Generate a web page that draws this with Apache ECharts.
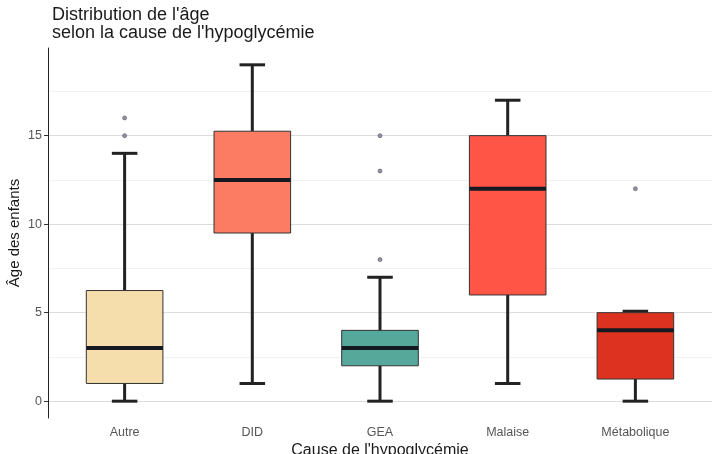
<!DOCTYPE html>
<html>
<head>
<meta charset="utf-8">
<script src="https://cdn.jsdelivr.net/npm/echarts@6/dist/echarts.min.js"></script>
<style>
  html, body { margin: 0; padding: 0; background: #fff; }
  #chart { width: 720px; height: 454px; }
</style>
</head>
<body>
<div id="chart"></div>
<script>
  var categories = ['Autre', 'DID', 'GEA', 'Malaise', 'Métabolique'];
  var whiskerLow = [0, 1, 0, 1, 0];
  var q1 = [1, 9.5, 2, 6, 1.25];
  var median = [3, 12.5, 3, 12, 4];
  var q3 = [6.25, 15.25, 4, 15, 5];
  var whiskerHigh = [14, 19, 7, 17, 5.08];
  // outliers: [category index, value]
  var outliers = [[0, 15], [0, 16], [2, 8], [2, 13], [2, 15], [4, 12]];
  var boxColors = ['#F5DEAB', '#FB7C62', '#55A89A', '#FE5546', '#DE3220'];
  var yTicks = [0, 5, 10, 15];
  var yMinorTicks = [2.5, 7.5, 12.5, 17.5];

  var chart = echarts.init(document.getElementById('chart'));

  var boxData = categories.map(function (c, i) {
    return [i + 1, whiskerLow[i], q1[i], median[i], q3[i], whiskerHigh[i]];
  });
  var outlierData = outliers.map(function (o) { return [o[0] + 1, o[1]]; });

  function renderBox(params, api) {
    var pos = api.value(0);
    var i = pos - 1;
    var x = api.coord([pos, 0])[0];
    var unit = api.size([1, 0])[0];
    var boxW = unit * 0.6;
    var capW = unit * 0.2;
    var yLo = api.coord([pos, api.value(1)])[1];
    var yQ1 = api.coord([pos, api.value(2)])[1];
    var yMed = api.coord([pos, api.value(3)])[1];
    var yQ3 = api.coord([pos, api.value(4)])[1];
    var yHi = api.coord([pos, api.value(5)])[1];
    var lineStyle = { stroke: '#222222', lineWidth: 3 };
    return {
      type: 'group',
      children: [
        { type: 'line', shape: { x1: x, y1: yLo, x2: x, y2: yQ1 }, style: lineStyle },
        { type: 'line', shape: { x1: x, y1: yQ3, x2: x, y2: yHi }, style: lineStyle },
        { type: 'line', shape: { x1: x - capW / 2, y1: yLo, x2: x + capW / 2, y2: yLo }, style: lineStyle },
        { type: 'line', shape: { x1: x - capW / 2, y1: yHi, x2: x + capW / 2, y2: yHi }, style: lineStyle },
        {
          type: 'rect',
          shape: { x: x - boxW / 2, y: yQ3, width: boxW, height: yQ1 - yQ3 },
          style: { fill: boxColors[i], stroke: '#333333', lineWidth: 1 }
        },
        {
          type: 'line',
          shape: { x1: x - boxW / 2, y1: yMed, x2: x + boxW / 2, y2: yMed },
          style: { stroke: '#151a22', lineWidth: 4 }
        }
      ]
    };
  }

  var option = {
    backgroundColor: '#ffffff',
    textStyle: { fontFamily: 'Liberation Sans, Arial, sans-serif' },
    title: {
      text: "Distribution de l'âge\nselon la cause de l'hypoglycémie",
      left: 47,
      top: 1,
      textStyle: {
        fontSize: 18,
        fontWeight: 'normal',
        color: '#1a1a1a',
        lineHeight: 18,
        fontFamily: 'Liberation Sans, Arial, sans-serif'
      }
    },
    grid: { left: 48, right: 8, top: 48, bottom: 36, outerBoundsMode: 'none', containLabel: false },
    xAxis: {
      type: 'value',
      min: 0.4,
      max: 5.6,
      name: "Cause de l'hypoglycémie",
      nameLocation: 'middle',
      nameGap: 25,
      nameMoveOverlap: false,
      nameTextStyle: { fontSize: 16, color: '#1a1a1a' },
      axisLine: { show: false },
      axisTick: { show: false, customValues: [1, 2, 3, 4, 5] },
      splitLine: { show: false },
      axisLabel: {
        customValues: [1, 2, 3, 4, 5],
        formatter: function (v) { return categories[Math.round(v) - 1]; },
        color: '#555555',
        fontSize: 12.5,
        margin: 8
      }
    },
    yAxis: [{
      type: 'value',
      min: -0.95,
      max: 19.95,
      position: 'left',
      name: 'Âge des enfants',
      nameLocation: 'middle',
      nameGap: 26,
      nameMoveOverlap: false,
      nameTextStyle: { fontSize: 15, color: '#1a1a1a' },
      axisLine: { show: true, lineStyle: { color: '#222222', width: 1 } },
      axisTick: { show: true, length: 4, customValues: yTicks, lineStyle: { color: '#333333' } },
      axisLabel: { customValues: yTicks, color: '#555555', fontSize: 12.5, margin: 6 },
      splitLine: { show: true, lineStyle: { color: '#dcdcdc', width: 1 } }
    }, {
      type: 'value',
      min: -0.95,
      max: 19.95,
      position: 'right',
      axisLine: { show: false },
      axisTick: { show: false, customValues: yMinorTicks },
      axisLabel: { show: false, customValues: yMinorTicks },
      splitLine: { show: true, lineStyle: { color: '#f1f1f1', width: 1 } }
    }],
    series: [{
      type: 'custom',
      renderItem: renderBox,
      data: boxData,
      encode: { x: 0, y: [1, 2, 3, 4, 5] },
      z: 2
    }, {
      type: 'scatter',
      data: outlierData,
      symbolSize: 4,
      itemStyle: { color: '#7a7a90', borderColor: '#333344', borderWidth: 0.6 },
      z: 3
    }]
  };

  chart.setOption(option);
</script>
</body>
</html>
